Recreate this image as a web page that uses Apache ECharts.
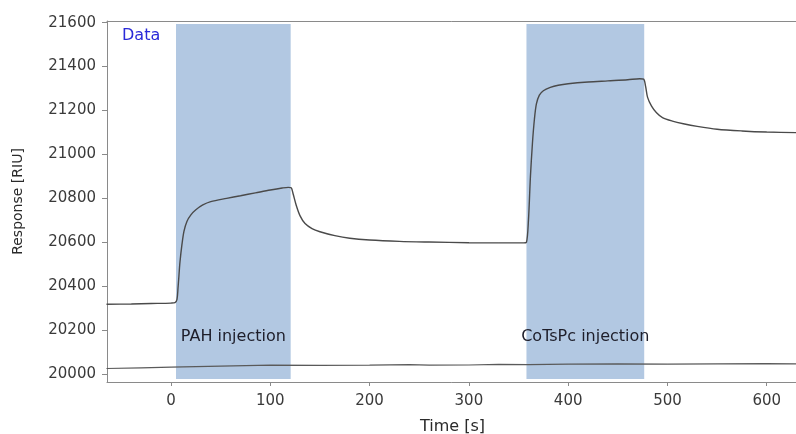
<!DOCTYPE html>
<html>
<head>
<meta charset="utf-8">
<style>
  html, body { margin: 0; padding: 0; background: #fff; }
  #chart { width: 796px; height: 434px; }
</style>
<script src="https://cdn.jsdelivr.net/npm/echarts@6/dist/echarts.min.js"></script>
</head>
<body>
<div id="chart"></div>
<script>
// response curve (time in s, response in RIU)
const mainTimes = [-65, -40, -20, 0, 4, 6, 7, 8, 9, 11, 13, 16, 20, 25, 32, 40, 56, 70, 85, 100, 112, 118, 121,
  123, 126, 130, 135, 142, 150, 165, 180, 200, 230, 260, 300, 330, 355,
  358, 360, 362, 364, 366, 368, 371, 375, 382, 390, 400, 420, 440, 460, 472, 476,
  478, 480, 484, 489, 495, 505, 516, 530, 550, 575, 600, 632];
const mainValues = [20318, 20319, 20321, 20323, 20325, 20340, 20390, 20450, 20510, 20590, 20650, 20695, 20725, 20748, 20770, 20785, 20800, 20812, 20825, 20838, 20847, 20850, 20848,
  20820, 20770, 20720, 20685, 20662, 20648, 20630, 20618, 20610, 20604, 20601, 20598, 20597, 20597,
  20600, 20700, 20900, 21050, 21160, 21230, 21270, 21290, 21305, 21315, 21322, 21330, 21335, 21340, 21345, 21343,
  21310, 21260, 21220, 21190, 21168, 21152, 21140, 21128, 21115, 21107, 21102, 21099];

// reference channel
const refTimes = [-65, -30, 0, 50, 100, 150, 200, 240, 260, 300, 330, 360, 400, 450, 500, 550, 600, 632];
const refValues = [20025, 20028, 20031, 20036, 20040, 20039, 20040, 20043, 20040, 20041, 20044, 20043, 20045, 20046, 20045, 20046, 20047, 20046];

// injection windows
const bandNames = ['PAH injection', 'CoTsPc injection'];
const bandStarts = [5, 358];
const bandEnds = [120.5, 476.6];

const xTicks = [0, 100, 200, 300, 400, 500, 600];
const yTicks = [20000, 20200, 20400, 20600, 20800, 21000, 21200, 21400, 21600];

const chart = echarts.init(document.getElementById('chart'));

const mainData = mainTimes.map((t, i) => [t, mainValues[i]]);
const refData = refTimes.map((t, i) => [t, refValues[i]]);
const bands = bandNames.map((name, i) => [
  { name: name, xAxis: bandStarts[i], yAxis: 19977 },
  { xAxis: bandEnds[i], yAxis: 21594 }
]);

const axisColor = '#8a8a8a';
const labelFont = { fontFamily: 'DejaVu Sans', fontSize: 15, color: '#3a3a3a', formatter: v => String(v) };

chart.setOption({
  animation: false,
  title: {
    text: 'Data',
    left: 117,
    top: 23,
    textStyle: { fontFamily: 'DejaVu Sans', fontSize: 16, fontWeight: 'normal', color: '#2a2ad8' }
  },
  grid: {
    left: 107,
    right: -2,
    top: 21,
    bottom: 52,
    outerBoundsMode: 'none'
  },
  xAxis: [
    {
      type: 'value',
      min: -64.5,
      max: 631.5,
      name: 'Time [s]',
      nameLocation: 'middle',
      nameGap: 37,
      nameTextStyle: { fontFamily: 'DejaVu Sans', fontSize: 16, color: '#2a2a2a' },
      axisLine: { onZero: false, lineStyle: { color: axisColor } },
      axisTick: { customValues: xTicks, length: 4, lineStyle: { color: axisColor } },
      axisLabel: Object.assign({ customValues: xTicks, margin: 12 }, labelFont),
      splitLine: { show: false }
    },
    {
      // top frame line only
      type: 'value',
      position: 'top',
      min: -64.5,
      max: 631.5,
      axisLine: { show: true, onZero: false, lineStyle: { color: axisColor } },
      axisTick: { show: false },
      axisLabel: { show: false },
      splitLine: { show: false }
    }
  ],
  yAxis: {
    type: 'value',
    min: 19963.6,
    max: 21607.7,
    name: 'Response [RIU]',
    nameLocation: 'middle',
    nameGap: 82,
    nameTextStyle: { fontFamily: 'DejaVu Sans', fontSize: 14, color: '#2a2a2a' },
    axisLine: { show: true, onZero: false, lineStyle: { color: axisColor } },
    axisTick: { show: true, customValues: yTicks, length: 5, lineStyle: { color: axisColor } },
    axisLabel: Object.assign({ customValues: yTicks, margin: 11 }, labelFont),
    splitLine: { show: false }
  },
  series: [
    {
      type: 'line',
      data: mainData,
      showSymbol: false,
      smooth: 0.3,
      lineStyle: { color: '#4a4a4a', width: 1.4 },
      z: 3,
      markArea: {
        silent: true,
        itemStyle: { color: '#b2c8e2' },
        label: {
          position: 'insideBottom',
          distance: 34,
          fontFamily: 'DejaVu Sans',
          fontSize: 16,
          color: '#1e1e2a'
        },
        data: bands
      }
    },
    {
      type: 'line',
      data: refData,
      showSymbol: false,
      lineStyle: { color: '#5a5a5a', width: 1.2 },
      z: 3
    }
  ]
});
</script>
</body>
</html>
